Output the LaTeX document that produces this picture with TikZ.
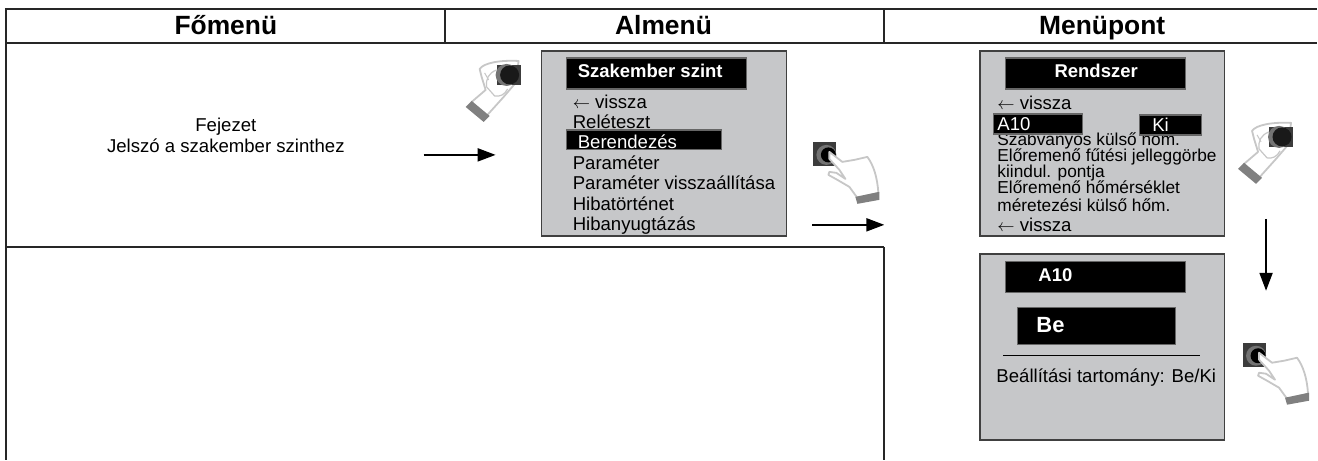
\documentclass[tikz,border=0pt]{standalone}
\usepackage{fontspec}
\setmainfont{Liberation Sans}
\usetikzlibrary{
    arrows.meta,
}

\definecolor{panelgray}{HTML}{C6C7C9}
\definecolor{knobgray}{HTML}{3C3C3C}

\begin{document}
\begin{tikzpicture}[
        x=1pt, y=-1pt,
        rule/.style={line width=2pt, draw=black!85},
        panel/.style={rectangle, draw=black!75, fill=panelgray, line width=1.8pt, inner sep=0pt},
        blackbox/.style={rectangle, draw=black!60, fill=black, line width=1.2pt, inner sep=0pt},
        head/.style={inner sep=0pt, anchor=base, font=\fontsize{26.4}{27}\selectfont\bfseries},
        menutext/.style={inner sep=0pt, anchor=base west, font=\fontsize{18.6}{20}\selectfont},
        smalltext/.style={inner sep=0pt, anchor=base west, font=\fontsize{17.3}{20}\selectfont},
        boxtext/.style={menutext, text=white},
        boldtext/.style={inner sep=0pt, anchor=base west, text=white, font=\fontsize{18.5}{20}\selectfont\bfseries},
        flow/.style={line width=2pt, -{Triangle[length=18pt,width=13pt]}},
        handline/.style={draw=black!22, line width=1.8pt, fill=white, line join=round},
        cuff/.style={fill=black!50, draw=none},
        turnhand/.pic={
            \draw[handline] (59,6) .. controls (40,5) and (24,8) .. (20,14) -- (22,22) -- (26,35) -- (12,47) -- (26,62) -- (44,42) -- (56,28) -- cycle;
            \fill[cuff] (6,52) -- (12,46) -- (30,61) -- (24,67) -- cycle;
            \fill[knobgray] (37,10) rectangle (61,30);
            \fill[black!55] (47,20) circle (11);
            \fill[black!90] (50,20) circle (9.5);
            \draw[black!22, line width=1.2pt] (37,15) .. controls (29,18) and (26,24) .. (27,32) -- (35,41) .. controls (40,42) and (45,40) .. (48,34);
            \draw[black!22, line width=1pt] (25,18) -- (29,25);
        },
        presshand/.pic={
            \fill[knobgray] (4,7) rectangle (27,31);
            \fill[black!55] (17,20) circle (10);
            \fill[black] (19,20) circle (7.5);
            \draw[handline] (20,17) -- (33,27) -- (45,25) -- (58,22) .. controls (64,30) and (68,42) .. (69,58) -- (48,63) -- (40,52) -- (28,45) -- (19,40) -- (20,37) -- (27,38) -- (36,44) -- (30,35) -- (20,24) -- cycle;
            \fill[cuff] (46,62) -- (70,57) -- (70,65) -- (48,69) -- cycle;
        },
        ]
        % table
        \draw[rule] (5,9) -- (1318,9);
        \draw[rule] (6,43) -- (1318,43);
        \draw[rule] (6,247) -- (885,247);
        \draw[rule] (6,9) -- (6,460);
        \draw[rule] (445,9) -- (445,43);
        \draw[rule] (885,9) -- (885,43);
        \draw[rule] (885,247) -- (885,460);
        \node[head] (FOMENU) at (226,35) {Főmenü};
        \node[head] (ALMENU) at (664,35) {Almenü};
        \node[head] (MENUPONT) at (1103,35) {Menüpont};
        % chapter text
        \node[menutext, anchor=base] (FEJ) at (226,132) {Fejezet};
        \node[menutext, anchor=base] (JEL) at (226,153) {Jelszó a szakember szinthez};
        % middle menu
        \node[panel, minimum width=245pt, minimum height=185pt] (MENU1) at (664.5,143.5) {};
        \node[blackbox, minimum width=180pt, minimum height=31pt] (TITLE1) at (657,73.5) {};
        \node[boldtext] (SZAK) at (578,78) {Szakember szint};
        \node[menutext] (BACK1) at (573,109) {$\leftarrow$ vissza};
        \node[menutext] (RELE) at (573,129) {Reléteszt};
        \node[blackbox, minimum width=155pt, minimum height=20pt] (SEL1) at (644.5,140) {};
        \node[boxtext] (BER) at (578,149) {Berendezés};
        \node[menutext] (PAR) at (573,170) {Paraméter};
        \node[menutext] (PARV) at (573,190) {Paraméter visszaállítása};
        \node[menutext] (HIBA) at (573,211) {Hibatörténet};
        \node[menutext] (NYUG) at (573,231) {Hibanyugtázás};
        % right menu
        \node[panel, minimum width=245pt, minimum height=185pt] (MENU2) at (1103,143.5) {};
        \node[blackbox, minimum width=180pt, minimum height=31pt] (TITLE2) at (1096,73.5) {};
        \node[boldtext, anchor=base] (REND) at (1097,78) {Rendszer};
        \node[menutext] (BACK2) at (998,110) {$\leftarrow$ vissza};
        \node[smalltext] (SZAB) at (998,146) {Szabványos külső hőm.};
        \node[smalltext] (ELO1) at (998,162) {Előremenő fűtési jelleggörbe};
        \node[smalltext] (KIIN) at (998,178) {kiindul. pontja};
        \node[smalltext] (ELO2) at (998,194) {Előremenő hőmérséklet};
        \node[smalltext] (MERE) at (998,212) {méretezési külső hőm.};
        \node[menutext] (BACK3) at (998,232) {$\leftarrow$ vissza};
        \node[blackbox, minimum width=89pt, minimum height=20pt] (SEL2) at (1038.5,124) {};
        \node[boxtext] (AT) at (998,130.5) {A10};
        \node[blackbox, minimum width=62pt, minimum height=20pt] (SEL3) at (1171,125) {};
        \node[boxtext] (KI) at (1153,132) {Ki};
        % value menu
        \node[panel, minimum width=245pt, minimum height=186pt] (MENU3) at (1103,347) {};
        \node[blackbox, minimum width=180pt, minimum height=31pt] (TITLE3) at (1096,277.5) {};
        \node[boldtext] (ATT) at (1039,282) {A10};
        \node[blackbox, minimum width=158pt, minimum height=37pt] (VAL) at (1097,326.5) {};
        \node[boldtext, font=\fontsize{22}{24}\selectfont\bfseries] (BE) at (1037,333) {Be};
        \coordinate (SEPL) at (1004,356);
        \coordinate (SEPR) at (1201,356);
        \draw[line width=1.5pt] (SEPL) -- (SEPR);
        \node[menutext] (TART) at (997,383) {Beállítási tartomány: Be/Ki};
        % hands
        \pic (HAND1) at (460,55) {turnhand};
        \pic (HAND2) at (810,135) {presshand};
        \pic (HAND3) at (1233,117) {turnhand};
        \pic (HAND4) at (1240,336) {presshand};
        % arrows
        \coordinate (A1) at (424,155);
        \coordinate (B1) at (496,155);
        \coordinate (A2) at (813,225);
        \coordinate (B2) at (885,225);
        \coordinate (A3) at (1267,219);
        \coordinate (B3) at (1267,291);
        \draw[flow] (A1) -- (B1);
        \draw[flow] (A2) -- (B2);
        \draw[flow] (A3) -- (B3);
        \useasboundingbox (0,0) rectangle (1318,460);
    \end{tikzpicture}
\end{document}
